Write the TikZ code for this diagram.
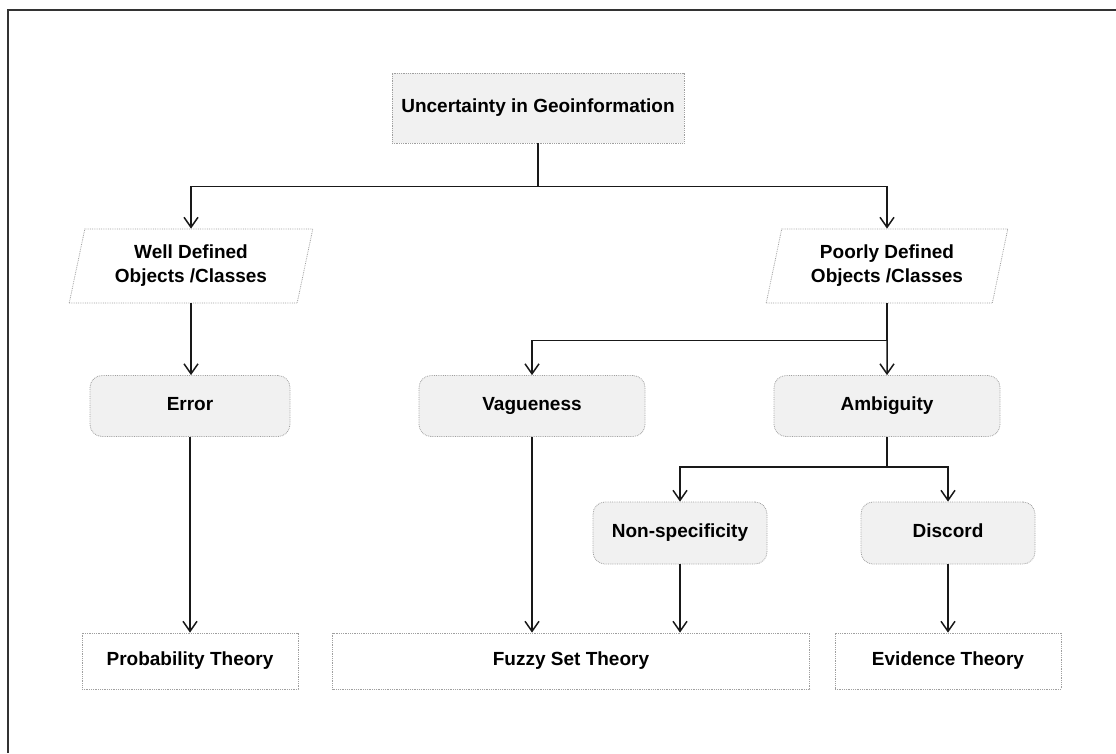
\documentclass[tikz,border=0pt]{standalone}
\usepackage{fontspec}
\setmainfont{Liberation Sans}
\usepackage{tikz}
\usetikzlibrary{shapes.geometric}
\usetikzlibrary{arrows.meta}
\definecolor{boxgray}{HTML}{F1F1F1}
\tikzstyle{box}=[draw=gray!75, densely dotted, line width=0.8pt, inner sep=0pt, align=center,
  font=\bfseries\fontsize{19}{24}\selectfont]
\tikzstyle{oneline}=[box, text height=13.5pt, text depth=4pt]
\tikzstyle{greybox}=[oneline, fill=boxgray]
\tikzstyle{rbox}=[greybox, rounded corners=12pt]
\tikzstyle{slantbox}=[box, trapezium, trapezium left angle=75, trapezium right angle=105,
  trapezium stretches=true]
\tikzstyle{link}=[line width=1.5pt, black!90, -{Straight Barb[length=10pt,width=14pt]}]

\begin{document}
\begin{tikzpicture}[x=1pt, y=-1pt]
        \useasboundingbox (0,0) rectangle (1116,753);
        \draw[line width=1.6pt, black!80] (8,753) -- (8,10) -- (1116,10);
        \node[greybox, minimum width=292, minimum height=70]  (geo)   at (538, 108) {Uncertainty in Geoinformation};
        \node[slantbox, minimum width=244, minimum height=74] (wdo)   at (191, 266) {Well Defined\\Objects /Classes};
        \node[slantbox, minimum width=242, minimum height=74] (pdo)   at (887, 266) {Poorly Defined\\Objects /Classes};
        \node[rbox, minimum width=200, minimum height=61]     (err)   at (190, 406) {Error};
        \node[rbox, minimum width=226, minimum height=61]     (vag)   at (532, 406) {Vagueness};
        \node[rbox, minimum width=226, minimum height=61]     (amb)   at (887, 406) {Ambiguity};
        \node[rbox, minimum width=174, minimum height=62]     (nsp)   at (680, 533) {Non-specificity};
        \node[rbox, minimum width=174, minimum height=62]     (dis)   at (948, 533) {Discord};
        \node[oneline, minimum width=216, minimum height=56]  (prob)  at (190, 661) {Probability Theory};
        \node[oneline, minimum width=477, minimum height=56]  (fuzzy) at (571, 661) {Fuzzy Set Theory};
        \node[oneline, minimum width=226, minimum height=56]  (evid)  at (948, 661) {Evidence Theory};
        \draw[link] (geo.south) -- ++(0, 43) -| (wdo.north);
        \draw[link] (geo.south) -- ++(0, 43) -| (pdo.north);
        \draw[link] (wdo.south) -- (wdo.south |- err.north);
        \draw[link] (pdo.south) -- ++(0, 37) -| (vag.north);
        \draw[link] (pdo.south) -- (amb.north);
        \draw[link] (amb.south) -- ++(0, 30) -| (nsp.north);
        \draw[link] (amb.south) -- ++(0, 30) -| (dis.north);
        \draw[link] (err.south) -- (prob.north);
        \draw[link] (vag.south) -- (vag.south |- fuzzy.north);
        \draw[link] (nsp.south) -- (nsp.south |- fuzzy.north);
        \draw[link] (dis.south) -- (evid.north);
    \end{tikzpicture}
\end{document}
